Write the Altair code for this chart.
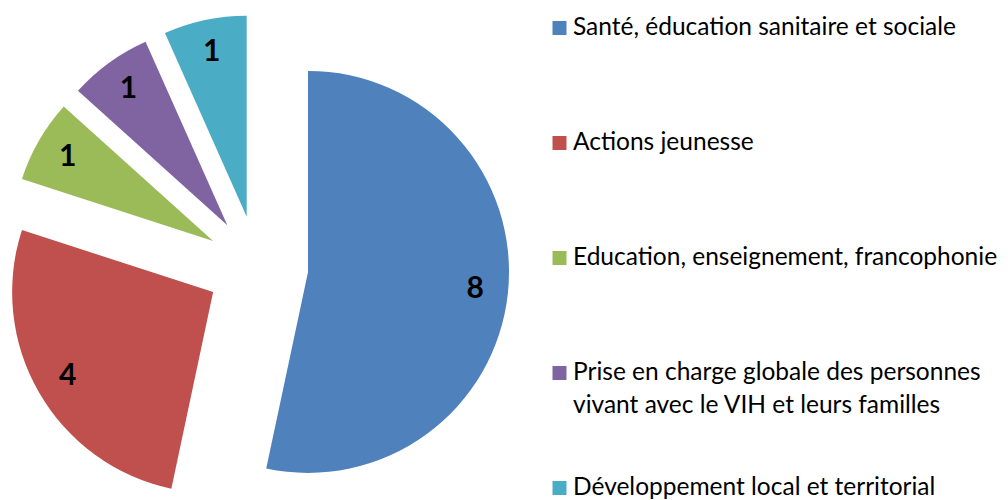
import altair as alt
import pandas as pd

categories = [
    "Santé, éducation sanitaire et sociale",
    "Actions jeunesse",
    "Education, enseignement, francophonie",
    "Prise en charge globale des personnes\nvivant avec le VIH et leurs familles",
    "Développement local et territorial",
]
values = [8, 4, 1, 1, 1]
colors = ["#4F81BD", "#C0504D", "#9BBB59", "#8064A2", "#4BACC6"]

df = pd.DataFrame({"category": categories, "value": values, "order": list(range(len(values)))})

CX, CY = 249.3, 258.6
EXPLODE = 51
R = 201
LABEL_R = 168
FONT = "Lato"

base = (
    alt.Chart(df)
    .transform_joinaggregate(total="sum(value)")
    .transform_window(cum="sum(value)", sort=[alt.SortField("order")], frame=[None, 0])
    .transform_calculate(
        start="2*PI*(datum.cum - datum.value)/datum.total",
        end="2*PI*datum.cum/datum.total",
    )
    .transform_calculate(mid="(datum.start + datum.end)/2")
    .transform_calculate(
        cx=f"{CX} + {EXPLODE}*sin(datum.mid)",
        cy=f"{CY} - {EXPLODE}*cos(datum.mid)",
    )
    .transform_calculate(
        lx=f"datum.cx + {LABEL_R}*sin(datum.mid)",
        ly=f"datum.cy - {LABEL_R}*cos(datum.mid)",
    )
)

color = alt.Color("category:N", scale=alt.Scale(domain=categories, range=colors), legend=None)

arcs = base.mark_arc(outerRadius=R).encode(
    theta=alt.Theta("start:Q", scale=None),
    theta2="end:Q",
    x=alt.X("cx:Q", scale=None),
    y=alt.Y("cy:Q", scale=None),
    color=color,
)

labels = base.mark_text(fontSize=30, fontWeight="bold", font=FONT, color="black").encode(
    x=alt.X("lx:Q", scale=None),
    y=alt.Y("ly:Q", scale=None),
    text="value:Q",
)

leg_base = alt.Chart(df).transform_calculate(legy="20 + datum.order*115")

leg_sq = leg_base.mark_square(size=196, opacity=1).encode(
    x=alt.value(551.5),
    y=alt.Y("legy:Q", scale=None),
    color=color,
)

leg_txt = leg_base.mark_text(
    align="left", baseline="middle", fontSize=24.5, font=FONT, color="black",
    lineBreak="\n", lineHeight=33,
).encode(
    x=alt.value(565),
    y=alt.Y("legy:Q", scale=None),
    text="category:N",
)

chart = (
    alt.layer(arcs, labels, leg_sq, leg_txt)
    .properties(width=992, height=492, padding=0, autosize=alt.AutoSizeParams(type="none"))
    .configure_view(strokeWidth=0)
)

chart.save("out.html", embed_options={"renderer": "svg", "actions": False})
